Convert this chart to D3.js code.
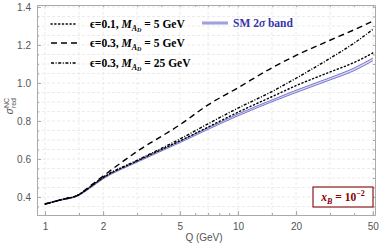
<!DOCTYPE html>
<html>
<head>
<meta charset="utf-8">
<script src="https://cdn.jsdelivr.net/npm/d3@7"></script>
<style>
  body { margin: 0; background: #fff; }
  svg { display: block; }
</style>
</head>
<body>
<script>
// Chart dimension
const width = 382;
const height = 246;
const margin = {left: 37, right: 7, top: 5, bottom: 31};

// Data (Q in GeV, reduced cross section)
const qValues   = [1, 1.2, 1.5, 1.7, 2, 3, 5, 7, 10, 15, 20, 30, 40, 50];
const smCentral = [0.363, 0.384, 0.410, 0.447, 0.498, 0.586, 0.690, 0.760, 0.832, 0.906, 0.956, 1.022, 1.072, 1.124];
const smHalfWidth = [0.002, 0.002, 0.002, 0.003, 0.003, 0.003, 0.004, 0.004, 0.005, 0.005, 0.006, 0.006, 0.007, 0.007];
const eps01M5   = [0.363, 0.384, 0.412, 0.450, 0.501, 0.590, 0.695, 0.768, 0.846, 0.928, 0.986, 1.058, 1.108, 1.158];
const eps03M5   = [0.363, 0.385, 0.413, 0.455, 0.510, 0.640, 0.780, 0.885, 0.975, 1.080, 1.145, 1.225, 1.280, 1.326];
const eps03M25  = [0.363, 0.385, 0.413, 0.452, 0.504, 0.593, 0.705, 0.785, 0.868, 0.955, 1.025, 1.130, 1.210, 1.282];

const xTicks = [1, 2, 5, 10, 20, 50];
const xMinor = [1, 1.5, 2, 3, 4, 5, 6, 7, 8, 9, 10, 15, 20, 30, 40, 50];
const xGrid = [1, 1.5, 2, 3, 5, 7, 10, 15, 20, 30, 50];
const yTicks = [0.4, 0.6, 0.8, 1.0, 1.2, 1.4];
const yMinor = d3.range(0.35, 1.401, 0.05);

const svg = d3.select("body")
    .append("svg")
    .attr("width", width)
    .attr("height", height);

// Scales
const x = d3.scaleLog()
    .domain([0.909, 51.3])
    .range([margin.left, width - margin.right]);

const y = d3.scaleLinear()
    .domain([0.3053, 1.4105])
    .range([height - margin.bottom, margin.top]);

const x0 = margin.left, x1 = width - margin.right;
const y0 = height - margin.bottom, y1 = margin.top;

// Grid lines (light dashed)
svg.append("g").selectAll("line")
    .data(xGrid)
    .enter()
    .append("line")
    .attr("x1", d => x(d)).attr("x2", d => x(d))
    .attr("y1", y0).attr("y2", y1)
    .attr("stroke", "#e6e6e6")
    .attr("stroke-width", 0.8)
    .attr("stroke-dasharray", "3,2");

svg.append("g").selectAll("line")
    .data(yMinor)
    .enter()
    .append("line")
    .attr("x1", x0).attr("x2", x1)
    .attr("y1", d => y(d)).attr("y2", d => y(d))
    .attr("stroke", "#e6e6e6")
    .attr("stroke-width", 0.8)
    .attr("stroke-dasharray", "3,2");

// Axes (frame with inward ticks)
const frameColor = "#aaaaaa";
function styleAxis(g) {
    g.select(".domain").attr("stroke", frameColor);
    g.selectAll(".tick line").attr("stroke", frameColor);
    g.selectAll(".tick text")
        .attr("fill", "#555")
        .style("font-family", "'Liberation Sans', Arial, sans-serif")
        .style("font-size", "10px");
}

svg.append("g")
    .attr("transform", `translate(0, ${y0})`)
    .call(d3.axisBottom(x).tickValues(xMinor).tickSize(-2).tickSizeOuter(0).tickFormat(() => ""))
    .call(styleAxis);
svg.append("g")
    .attr("transform", `translate(0, ${y0})`)
    .call(d3.axisBottom(x).tickValues(xTicks).tickSize(-4).tickSizeOuter(0).tickPadding(8).tickFormat(d3.format("d")))
    .call(styleAxis);

svg.append("g")
    .attr("transform", `translate(0, ${y1})`)
    .call(d3.axisTop(x).tickValues(xMinor).tickSize(-2).tickSizeOuter(0).tickFormat(() => ""))
    .call(styleAxis);

svg.append("g")
    .attr("transform", `translate(${x0}, 0)`)
    .call(d3.axisLeft(y).tickValues(yMinor).tickSize(-2).tickSizeOuter(0).tickFormat(() => ""))
    .call(styleAxis);
svg.append("g")
    .attr("transform", `translate(${x0}, 0)`)
    .call(d3.axisLeft(y).tickValues(yTicks).tickSize(-4).tickSizeOuter(0).tickPadding(6).tickFormat(d3.format(".1f")))
    .call(styleAxis);

svg.append("g")
    .attr("transform", `translate(${x1}, 0)`)
    .call(d3.axisRight(y).tickValues(yMinor).tickSize(-2).tickSizeOuter(0).tickFormat(() => ""))
    .call(styleAxis);

// SM band
const bandData = qValues.map((q, i) => ({q, lo: smCentral[i] - smHalfWidth[i], hi: smCentral[i] + smHalfWidth[i]}));
const bandColor = "#4646b8";

svg.append("path")
    .datum(bandData)
    .attr("d", d3.area().x(d => x(d.q)).y0(d => y(d.lo)).y1(d => y(d.hi)).curve(d3.curveMonotoneX))
    .attr("fill", "#d8d8f6");

["lo", "hi"].forEach(k => {
    svg.append("path")
        .datum(bandData)
        .attr("d", d3.line().x(d => x(d.q)).y(d => y(d[k])).curve(d3.curveMonotoneX))
        .attr("fill", "none")
        .attr("stroke", bandColor)
        .attr("stroke-width", 0.7);
});

// BSM curves
const curves = [
    {values: eps01M5,  dash: "1.2,2.6", cap: "round"},
    {values: eps03M5,  dash: "6,4",     cap: "butt"},
    {values: eps03M25, dash: "3,1.6,1,1.6", cap: "butt"}
];

const line = d3.line()
    .x(d => x(d[0]))
    .y(d => y(d[1]))
    .curve(d3.curveMonotoneX);

curves.forEach(c => {
    svg.append("path")
        .datum(qValues.map((q, i) => [q, c.values[i]]))
        .attr("d", line)
        .attr("fill", "none")
        .attr("stroke", "#000")
        .attr("stroke-width", 1.4)
        .attr("stroke-linecap", c.cap)
        .attr("stroke-dasharray", c.dash);
});

// Legend
const legendFont = "'Liberation Serif', 'Times New Roman', serif";
const legendRows = [
    {eps: "0.1", mass: "5", dash: "1.2,2.6", cap: "round", yy: 24},
    {eps: "0.3", mass: "5", dash: "6,4", cap: "butt", yy: 43},
    {eps: "0.3", mass: "25", dash: "3,1.6,1,1.6", cap: "butt", yy: 63}
];

legendRows.forEach(r => {
    svg.append("line")
        .attr("x1", 51).attr("x2", 77)
        .attr("y1", r.yy).attr("y2", r.yy)
        .attr("stroke", "#000")
        .attr("stroke-width", 1.4)
        .attr("stroke-linecap", r.cap)
        .attr("stroke-dasharray", r.dash);

    const t = svg.append("text")
        .attr("x", 90)
        .attr("y", r.yy + 4)
        .style("font-family", legendFont)
        .style("font-size", "11.5px")
        .style("font-weight", "bold")
        .attr("fill", "#000");
    t.append("tspan").text(`\u03F5=${r.eps}, `);
    t.append("tspan").style("font-style", "italic").text("M");
    t.append("tspan").attr("dy", 2.5).style("font-size", "8px").style("font-style", "italic").text("A");
    t.append("tspan").attr("dy", 1.5).style("font-size", "6px").style("font-style", "italic").text("D");
    t.append("tspan").attr("dy", -4).text(` = ${r.mass} GeV`);
});

// SM legend entry
svg.append("line")
    .attr("x1", 202).attr("x2", 228)
    .attr("y1", 23).attr("y2", 23)
    .attr("stroke", "#d8d8f6")
    .attr("stroke-width", 1.4);
[-0.9, 0.9].forEach(o => {
    svg.append("line")
        .attr("x1", 202).attr("x2", 228)
        .attr("y1", 23 + o).attr("y2", 23 + o)
        .attr("stroke", bandColor)
        .attr("stroke-width", 0.7);
});

const smText = svg.append("text")
    .attr("x", 233)
    .attr("y", 27)
    .style("font-family", legendFont)
    .style("font-size", "11.5px")
    .style("font-weight", "bold")
    .attr("fill", "#3535a8");
smText.append("tspan").text("SM 2");
smText.append("tspan").style("font-style", "italic").text("\u03C3");
smText.append("tspan").text(" band");

// x_B box
svg.append("rect")
    .attr("x", 313).attr("y", 187)
    .attr("width", 60).attr("height", 20)
    .attr("fill", "#fff")
    .attr("stroke", "#8b1a1a")
    .attr("stroke-width", 1.2);

const xb = svg.append("text")
    .attr("x", 343)
    .attr("y", 201)
    .attr("text-anchor", "middle")
    .style("font-family", legendFont)
    .style("font-size", "11.5px")
    .style("font-weight", "bold")
    .attr("fill", "#8b0000");
xb.append("tspan").style("font-style", "italic").text("x");
xb.append("tspan").attr("dy", 2.5).style("font-size", "8px").style("font-style", "italic").text("B");
xb.append("tspan").attr("dy", -2.5).text(" = 10");
xb.append("tspan").attr("dy", -5).style("font-size", "8px").text("\u22122");

// x-axis label
svg.append("text")
    .attr("x", 204)
    .attr("y", 241)
    .attr("text-anchor", "middle")
    .attr("fill", "#555")
    .style("font-family", "'Liberation Sans', Arial, sans-serif")
    .style("font-size", "10px")
    .text("Q (GeV)");

// y-axis label
const yl = svg.append("text")
    .attr("transform", "translate(13, 106) rotate(-90)")
    .attr("text-anchor", "middle")
    .attr("fill", "#555")
    .style("font-family", "'Liberation Sans', Arial, sans-serif")
    .style("font-size", "10px");
yl.append("tspan").style("font-style", "italic").text("\u03C3");
yl.append("tspan").attr("dy", 2.5).style("font-size", "7px").text("red");
yl.append("tspan").attr("dx", -10).attr("dy", -7).style("font-size", "7px").text("NC");
</script>
</body>
</html>
